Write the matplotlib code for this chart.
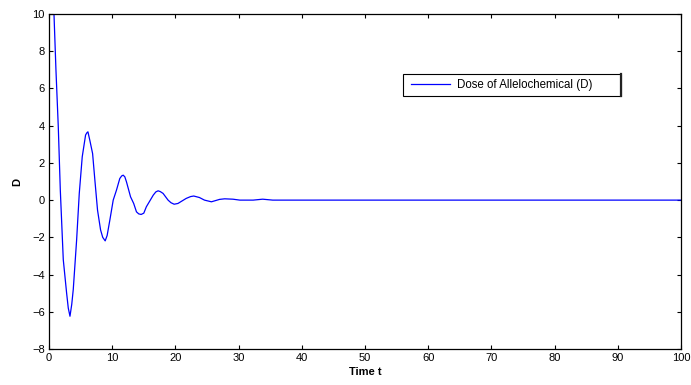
import numpy as np
import matplotlib
matplotlib.use("Agg")
import matplotlib.pyplot as plt
from matplotlib.patches import Rectangle
from matplotlib.lines import Line2D

# values
t = [0.0, 0.79, 1.1, 1.47, 1.79, 2.26, 2.79, 3.05, 3.32, 3.6, 3.84, 4.37, 4.79,
     5.26, 5.79, 6.0, 6.16, 6.47, 6.9, 7.26, 7.68, 8.16, 8.5, 8.89, 9.2, 9.63,
     10.16, 10.68, 11.2, 11.5, 11.74, 12.0, 12.26, 12.9, 13.4, 13.84, 14.2, 14.58,
     15.0, 15.4, 16.5, 16.9, 17.26, 17.6, 18.05, 18.84, 19.3, 19.8, 20.4, 21.7,
     22.4, 22.9, 23.8, 24.6, 25.7, 27.0, 27.8, 29.1, 30.2, 32.3, 33.8, 35.4,
     50.0, 75.0, 100.0]
D = [15.0, 10.0, 7.0, 3.94, 0.54, -3.2, -5.0, -5.8, -6.24, -5.6, -4.8, -2.15, 0.36,
     2.33, 3.5, 3.62, 3.67, 3.2, 2.5, 1.07, -0.54, -1.6, -2.0, -2.19, -1.9, -1.07,
     0.0, 0.54, 1.16, 1.3, 1.34, 1.25, 0.98, 0.18, -0.18, -0.63, -0.74, -0.77,
     -0.7, -0.36, 0.27, 0.44, 0.5, 0.46, 0.36, 0.0, -0.14, -0.22, -0.18, 0.09,
     0.19, 0.22, 0.14, 0.0, -0.09, 0.04, 0.07, 0.05, 0.0, 0.0, 0.05, 0.0,
     0.0, 0.0, 0.0]

xticks = np.arange(0, 101, 10)
yticks = np.arange(-8, 11, 2)
label = 'Dose of Allelochemical (D)'

plt.rcParams['font.family'] = ['Liberation Sans', 'DejaVu Sans']

fig = plt.figure(figsize=(6.91, 3.85), dpi=100)
ax = fig.add_axes([0.0709, 0.0935, 0.9147, 0.8701])

ax.plot(t, D, color='#0000ff', lw=0.9, label=label)
ax.set_xlim(0, 100)
ax.set_ylim(-8, 10)
ax.set_xticks(xticks)
ax.set_yticks(yticks)
ax.tick_params(direction='in', top=True, right=True, length=3, width=0.8,
               labelsize=8, pad=3)
for s in ax.spines.values():
    s.set_linewidth(0.9)

ax.set_xlabel('Time t', fontsize=8, fontweight='bold', labelpad=3)
ax.set_ylabel('D', fontsize=8, fontweight='bold', labelpad=7)

# MATLAB-like legend: box drawn separately, thicker right edge
leg = ax.legend(loc='center left', bbox_to_anchor=(0.573, 0.788), fontsize=8.3,
                frameon=False, handlelength=3.4, handletextpad=0.55,
                borderpad=0, borderaxespad=0)
box = Rectangle((0.560, 0.755), 0.345, 0.066, transform=ax.transAxes,
                fill=False, edgecolor='black', lw=0.8, zorder=4)
ax.add_patch(box)
ax.add_line(Line2D([0.905, 0.905], [0.755, 0.821], transform=ax.transAxes,
                   color='#222222', lw=1.6, zorder=4))

fig.savefig('out.png', dpi=100)
